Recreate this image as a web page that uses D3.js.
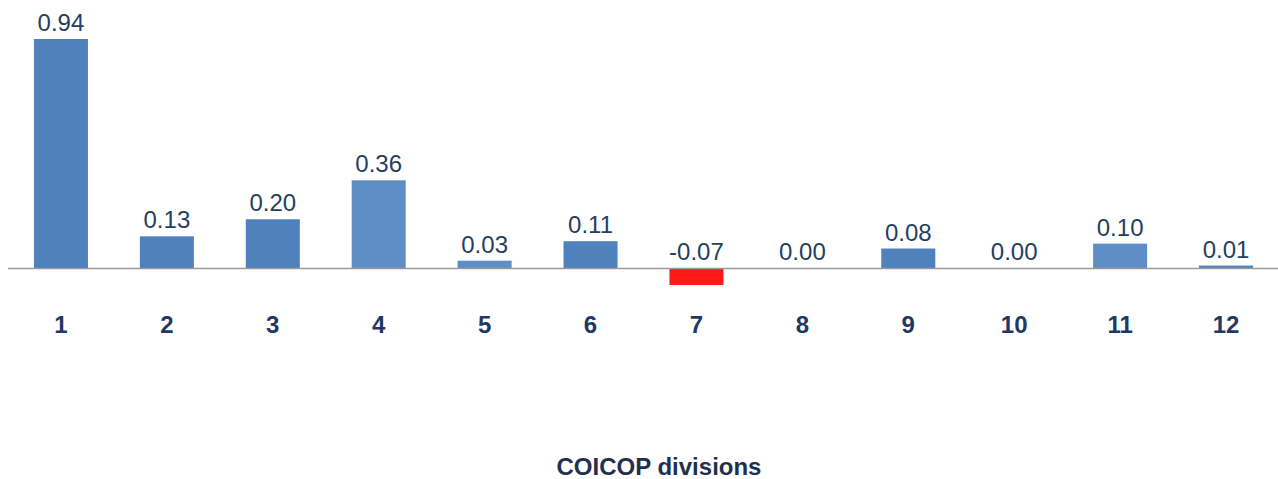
<!DOCTYPE html>
<html>
<head>
<meta charset="utf-8">
<script src="https://cdn.jsdelivr.net/npm/d3@7"></script>
<style>
  html, body { margin: 0; padding: 0; background: #ffffff; }
  svg { display: block; }
</style>
</head>
<body>
<svg id="chart" width="1278" height="479"></svg>
<script>
const categories = ["1", "2", "3", "4", "5", "6", "7", "8", "9", "10", "11", "12"];
const values = [0.94, 0.13, 0.20, 0.36, 0.03, 0.11, -0.07, 0.00, 0.08, 0.00, 0.10, 0.01];
const valueLabels = ["0.94", "0.13", "0.20", "0.36", "0.03", "0.11", "-0.07", "0.00", "0.08", "0.00", "0.10", "0.01"];
const shade = ["dark", "dark", "dark", "light", "light", "dark", "neg", "dark", "dark", "dark", "light", "dark"];
const xTitle = "COICOP divisions";

const palette = { dark: "#4f81bd", light: "#5f8ec6", neg: "#ff1a1a" };

const svg = d3.select("#chart");
const W = 1278, H = 479;

const x = d3.scaleBand()
  .domain(categories)
  .range([8, 1279])
  .paddingInner(0.49)
  .paddingOuter(0.245);

const y = d3.scaleLinear()
  .domain([0, 0.94])
  .range([268, 39]);

// bars
svg.append("g").selectAll("rect")
  .data(values)
  .join("rect")
  .attr("x", (d, i) => x(categories[i]))
  .attr("width", x.bandwidth())
  .attr("y", d => Math.min(y(d), y(0)))
  .attr("height", d => Math.abs(y(d) - y(0)))
  .attr("fill", (d, i) => palette[shade[i]]);

// zero axis line
svg.append("line")
  .attr("x1", 8).attr("x2", W)
  .attr("y1", y(0) + 0.5).attr("y2", y(0) + 0.5)
  .attr("stroke", "#9a9a9a")
  .attr("stroke-width", 1.6);

// value labels
svg.append("g").selectAll("text")
  .data(values)
  .join("text")
  .attr("x", (d, i) => x(categories[i]) + x.bandwidth() / 2)
  .attr("y", d => Math.min(y(d), y(0)) - 8)
  .attr("text-anchor", "middle")
  .attr("font-family", "Liberation Sans, Arial, sans-serif")
  .attr("font-size", 24)
  .attr("fill", "#243f60")
  .text((d, i) => valueLabels[i]);

// category labels
const xAxis = d3.axisBottom(x).tickSize(0).tickPadding(0);
const gx = svg.append("g")
  .attr("transform", `translate(0, ${y(0) + 65})`)
  .call(xAxis);
gx.select(".domain").remove();
gx.selectAll("text")
  .attr("dy", 0)
  .attr("font-family", "Liberation Sans, Arial, sans-serif")
  .attr("font-size", 24)
  .attr("font-weight", "bold")
  .attr("fill", "#1f3864");

// axis title
svg.append("text")
  .attr("x", 659)
  .attr("y", 475)
  .attr("text-anchor", "middle")
  .attr("font-family", "Liberation Sans, Arial, sans-serif")
  .attr("font-size", 24)
  .attr("font-weight", "bold")
  .attr("fill", "#1f3050")
  .text(xTitle);
</script>
</body>
</html>
